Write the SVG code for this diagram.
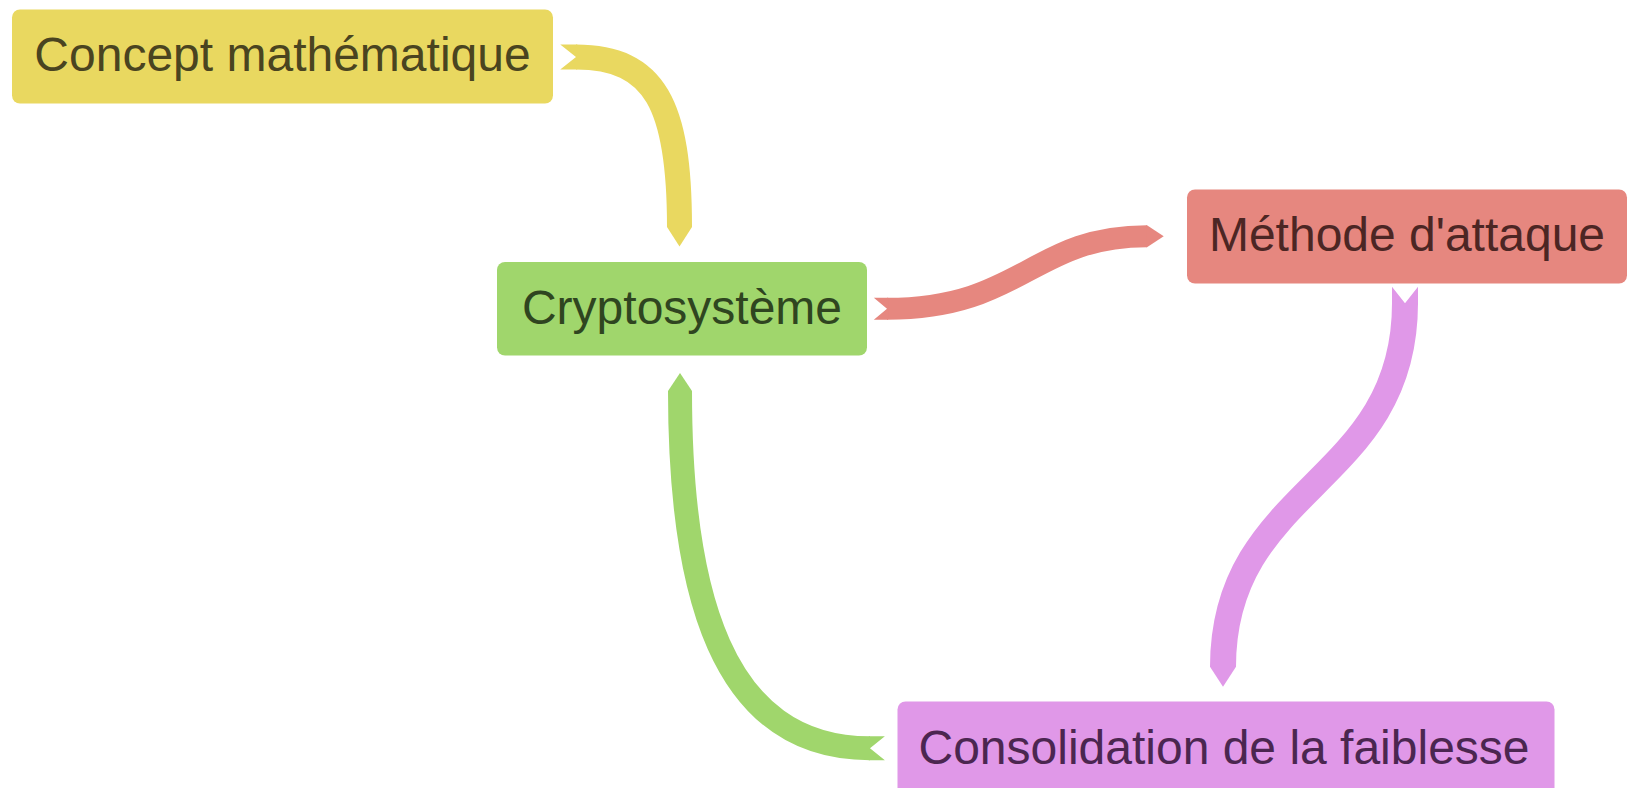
<svg xmlns="http://www.w3.org/2000/svg" width="1636" height="788" viewBox="0 0 1636 788">
<style>
.lbl{font-family:"Liberation Sans",Arial,sans-serif;font-size:48px;text-anchor:middle}
.rib{fill:none;stroke-linecap:butt}
</style>
<defs>
<marker id="hY" viewBox="0 -0.5 1 1" markerWidth="1" markerHeight="1" refX="0" refY="0" orient="auto" markerUnits="strokeWidth" overflow="visible"><path d="M-0.03,-0.5 L0,-0.5 L0.78,0 L0,0.5 L-0.03,0.5 Z" fill="#E9D860"/></marker>
<marker id="hG" viewBox="0 -0.5 1 1" markerWidth="1" markerHeight="1" refX="0" refY="0" orient="auto" markerUnits="strokeWidth" overflow="visible"><path d="M-0.03,-0.5 L0,-0.5 L0.75,0 L0,0.5 L-0.03,0.5 Z" fill="#A0D66C"/></marker>
<marker id="hR" viewBox="0 -0.5 1 1" markerWidth="1" markerHeight="1" refX="0" refY="0" orient="auto" markerUnits="strokeWidth" overflow="visible"><path d="M-0.03,-0.5 L0,-0.5 L0.76,0 L0,0.5 L-0.03,0.5 Z" fill="#E6877F"/></marker>
<marker id="hP" viewBox="0 -0.5 1 1" markerWidth="1" markerHeight="1" refX="0" refY="0" orient="auto" markerUnits="strokeWidth" overflow="visible"><path d="M-0.03,-0.5 L0,-0.5 L0.77,0 L0,0.5 L-0.03,0.5 Z" fill="#E098E8"/></marker>
<marker id="tY" viewBox="-0.7 -0.5 1 1" markerWidth="1" markerHeight="1" refX="0" refY="0" orient="auto" markerUnits="strokeWidth" overflow="visible"><path d="M-0.63,-0.5 L0.05,-0.5 L0.05,0.5 L-0.63,0.5 L0,0 Z" fill="#E9D860"/></marker>
<marker id="tG" viewBox="-0.7 -0.5 1 1" markerWidth="1" markerHeight="1" refX="0" refY="0" orient="auto" markerUnits="strokeWidth" overflow="visible"><path d="M-0.62,-0.5 L0.05,-0.5 L0.05,0.5 L-0.62,0.5 L0,0 Z" fill="#A0D66C"/></marker>
<marker id="tR" viewBox="-0.7 -0.5 1 1" markerWidth="1" markerHeight="1" refX="0" refY="0" orient="auto" markerUnits="strokeWidth" overflow="visible"><path d="M-0.6,-0.5 L0.05,-0.5 L0.05,0.5 L-0.6,0.5 L0,0 Z" fill="#E6877F"/></marker>
<marker id="tP" viewBox="-0.7 -0.5 1 1" markerWidth="1" markerHeight="1" refX="0" refY="0" orient="auto" markerUnits="strokeWidth" overflow="visible"><path d="M-0.64,-0.5 L0.05,-0.5 L0.05,0.5 L-0.64,0.5 L0,0 Z" fill="#E098E8"/></marker>
</defs>
<rect width="1636" height="788" fill="#ffffff"/>
<g id="connectors">
<path class="rib" d="M576,57 C655,57 679.5,105 679.5,227" stroke="#E9D860" stroke-width="25" marker-start="url(#tY)" marker-end="url(#hY)"/>
<path class="rib" d="M887,308.8 C1022,308.8 1032,236.2 1147,236.2" stroke="#E6877F" stroke-width="22" marker-start="url(#tR)" marker-end="url(#hR)"/>
<path class="rib" d="M1405,303.3 C1405,485 1223,485 1223,666.7" stroke="#E098E8" stroke-width="26" marker-start="url(#tP)" marker-end="url(#hP)"/>
<path class="rib" d="M870,748.3 C720,748.3 680,590 680,391" stroke="#A0D66C" stroke-width="24" marker-start="url(#tG)" marker-end="url(#hG)"/>
</g>
<g id="node-concept">
<rect x="12" y="9.5" width="541" height="94" rx="8" fill="#E9D860"/>
<text class="lbl" x="282.5" y="71" fill="#4A4420">Concept mathématique</text>
</g>
<g id="node-crypto">
<rect x="497" y="262" width="370" height="93.5" rx="8" fill="#A0D66C"/>
<text class="lbl" x="682" y="323.5" fill="#2F4520">Cryptosystème</text>
</g>
<g id="node-methode">
<rect x="1187" y="189.5" width="440" height="94" rx="8" fill="#E6877F"/>
<text class="lbl" x="1407" y="251" fill="#4C2624">Méthode d'attaque</text>
</g>
<g id="node-consolidation">
<rect x="897.5" y="701.5" width="657" height="94" rx="8" fill="#E098E8"/>
<text class="lbl" x="1224" y="763.5" fill="#4B2650">Consolidation de la faiblesse</text>
</g>
</svg>
